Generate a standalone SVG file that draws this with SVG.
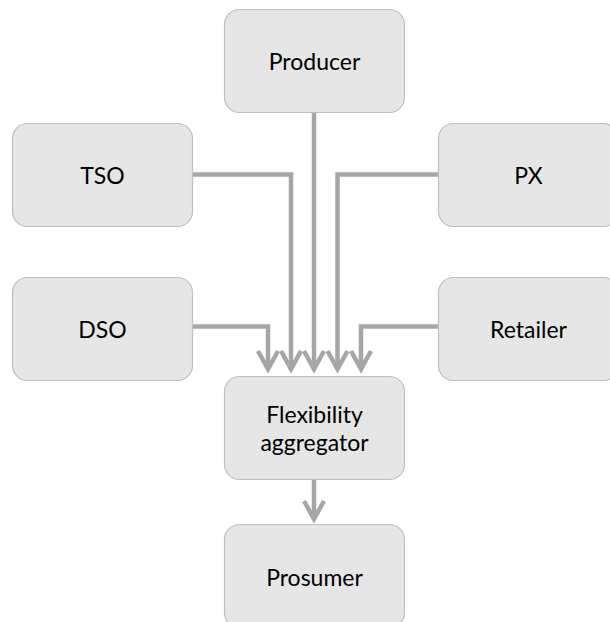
<svg xmlns="http://www.w3.org/2000/svg" width="610" height="622" viewBox="0 0 610 622">
<style>
.box{fill:#e6e6e6;stroke:#bfbfbf;stroke-width:1.2}
.lbl{font-family:Lato,"Open Sans","Liberation Sans",sans-serif;font-size:23px;fill:#000;text-anchor:middle}
.conn{fill:none;stroke:#a6a6a6;stroke-width:4.5}
</style>
<defs>
<marker id="chev" markerUnits="userSpaceOnUse" viewBox="-24 -14 30 28" refX="0" refY="0" markerWidth="30" markerHeight="28" orient="auto">
<path d="M-18,-10 L0,0 L-18,10" fill="none" stroke="#a6a6a6" stroke-width="4.5"/>
</marker>
</defs>
<g id="connectors">
<path class="conn" d="M192,174.5 H291 V369" marker-end="url(#chev)"/>
<path class="conn" d="M314,112 V369" marker-end="url(#chev)"/>
<path class="conn" d="M438,174.5 H337.5 V369" marker-end="url(#chev)"/>
<path class="conn" d="M192,326.5 H268 V369" marker-end="url(#chev)"/>
<path class="conn" d="M438,326.5 H361 V369" marker-end="url(#chev)"/>
<path class="conn" d="M314,479 V519" marker-end="url(#chev)"/>
</g>
<g id="producer"><rect class="box" x="224.5" y="9.5" width="180" height="103" rx="15"/><text class="lbl" x="314.5" y="70">Producer</text></g>
<g id="tso"><rect class="box" x="12.5" y="123.5" width="180" height="103" rx="15"/><text class="lbl" x="102.5" y="184">TSO</text></g>
<g id="px"><rect class="box" x="438.5" y="123.5" width="180" height="103" rx="15"/><text class="lbl" x="528.5" y="184">PX</text></g>
<g id="dso"><rect class="box" x="12.5" y="277.5" width="180" height="103" rx="15"/><text class="lbl" x="102.5" y="338">DSO</text></g>
<g id="retailer"><rect class="box" x="438.5" y="277.5" width="180" height="103" rx="15"/><text class="lbl" x="528.5" y="338">Retailer</text></g>
<g id="aggregator"><rect class="box" x="224.5" y="376.5" width="180" height="103" rx="15"/><text class="lbl" x="314.5" y="423">Flexibility</text><text class="lbl" x="314.5" y="451">aggregator</text></g>
<g id="prosumer"><rect class="box" x="224.5" y="524.5" width="180" height="103" rx="15"/><text class="lbl" x="314.5" y="586">Prosumer</text></g>
</svg>
